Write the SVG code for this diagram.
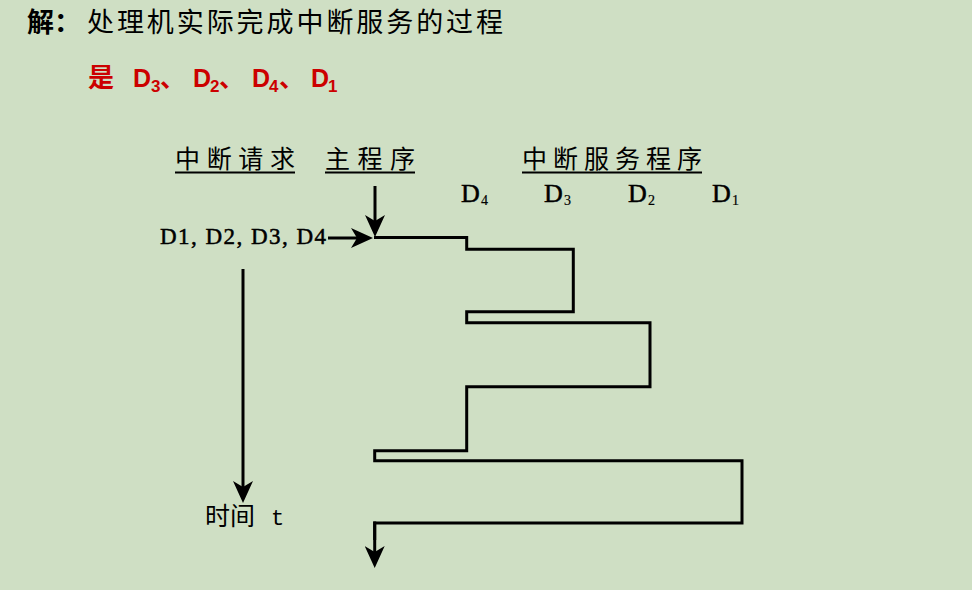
<svg xmlns="http://www.w3.org/2000/svg" width="972" height="590" viewBox="0 0 972 590">
<defs>
<style>
.bg{fill:#cfdfc4}
.cjk{font-family:"Noto Sans CJK SC",sans-serif;fill:#000}
.title{font-size:27px}
.red{fill:#cc0000;font-family:"Liberation Sans","Noto Sans CJK SC",sans-serif;font-weight:bold}
.lbl{font-family:"Noto Sans CJK SC",sans-serif;font-size:25px;fill:#000}
.ser{font-family:"Liberation Serif","Noto Sans CJK SC",serif;fill:#000;stroke:#000;stroke-width:0.5}
.ul{stroke:#000;stroke-width:2}
.ln{fill:none;stroke:#000;stroke-width:3;stroke-linejoin:miter}
.ar{fill:none;stroke:#000;stroke-width:3;marker-end:url(#ah)}
</style>
<marker id="ah" viewBox="0 0 22 20" refX="15" refY="10" markerWidth="22" markerHeight="20" markerUnits="userSpaceOnUse" orient="auto">
<path d="M0,0 L22,10 L0,20 L6,10 z" fill="#000"/>
</marker>
</defs>
<rect class="bg" x="0" y="0" width="972" height="590"/>

<g id="title">
<text class="cjk title" x="27" y="32" font-weight="bold">解：</text>
<text class="cjk title" x="87" y="32" textLength="416" lengthAdjust="spacing">处理机实际完成中断服务的过程</text>
</g>
<g id="answer">
<text class="red" x="88" y="87" font-size="26" font-family="Noto Sans CJK SC">是</text>
<text class="red" font-size="25"><tspan x="133" y="87">D</tspan><tspan x="151" y="92" font-size="17">3</tspan></text>
<text class="red" x="160" y="87" font-size="25">、</text>
<text class="red" font-size="25"><tspan x="193" y="87">D</tspan><tspan x="210" y="92" font-size="17">2</tspan></text>
<text class="red" x="219" y="87" font-size="25">、</text>
<text class="red" font-size="25"><tspan x="252" y="87">D</tspan><tspan x="269" y="92" font-size="17">4</tspan></text>
<text class="red" x="279" y="87" font-size="25">、</text>
<text class="red" font-size="25"><tspan x="311" y="87">D</tspan><tspan x="328" y="92" font-size="17">1</tspan></text>
</g>

<g id="hdr-request">
<text class="lbl" x="175" y="168" textLength="120" lengthAdjust="spacing">中断请求</text>
<line class="ul" x1="175" y1="172.5" x2="295" y2="172.5"/>
</g>
<g id="hdr-main">
<text class="lbl" x="325" y="168" textLength="90" lengthAdjust="spacing">主程序</text>
<line class="ul" x1="325" y1="172.5" x2="415" y2="172.5"/>
</g>
<g id="hdr-service">
<text class="lbl" x="522" y="168" textLength="180" lengthAdjust="spacing">中断服务程序</text>
<line class="ul" x1="522" y1="172.5" x2="702" y2="172.5"/>
</g>

<g id="d-labels">
<text class="ser" font-size="26"><tspan x="461" y="202">D</tspan><tspan x="481" y="205" font-size="14" stroke-width="0.2">4</tspan></text>
<text class="ser" font-size="26"><tspan x="544" y="202">D</tspan><tspan x="564" y="205" font-size="14" stroke-width="0.2">3</tspan></text>
<text class="ser" font-size="26"><tspan x="628" y="202">D</tspan><tspan x="648" y="205" font-size="14" stroke-width="0.2">2</tspan></text>
<text class="ser" font-size="26"><tspan x="712" y="202">D</tspan><tspan x="732" y="205" font-size="14" stroke-width="0.2">1</tspan></text>
</g>

<g id="requests">
<text class="ser" x="160" y="244" font-size="23" textLength="166" lengthAdjust="spacing">D1, D2, D3, D4</text>
</g>

<g id="time-label">
<text class="lbl" x="205" y="525" font-size="23">时间</text>
<text x="271" y="525" font-family="Liberation Mono,monospace" font-size="22" fill="#000">t</text>
</g>

<g id="connectors">
<line class="ar" x1="375" y1="186" x2="375" y2="230"/>
<line class="ar" x1="328" y1="238" x2="366" y2="238"/>
<line class="ar" x1="243" y1="269" x2="243" y2="496"/>
<path class="ln" d="M374,237.5 H466.7 V249.3 H573.3 V311.7 H466.7 V322.7 H650 V386.7 H466.7 V450.7 H374.7 V460.7 H742 V523 H374.7 V540"/>
<line class="ar" x1="374.7" y1="521.5" x2="374.7" y2="561"/>
</g>
</svg>
